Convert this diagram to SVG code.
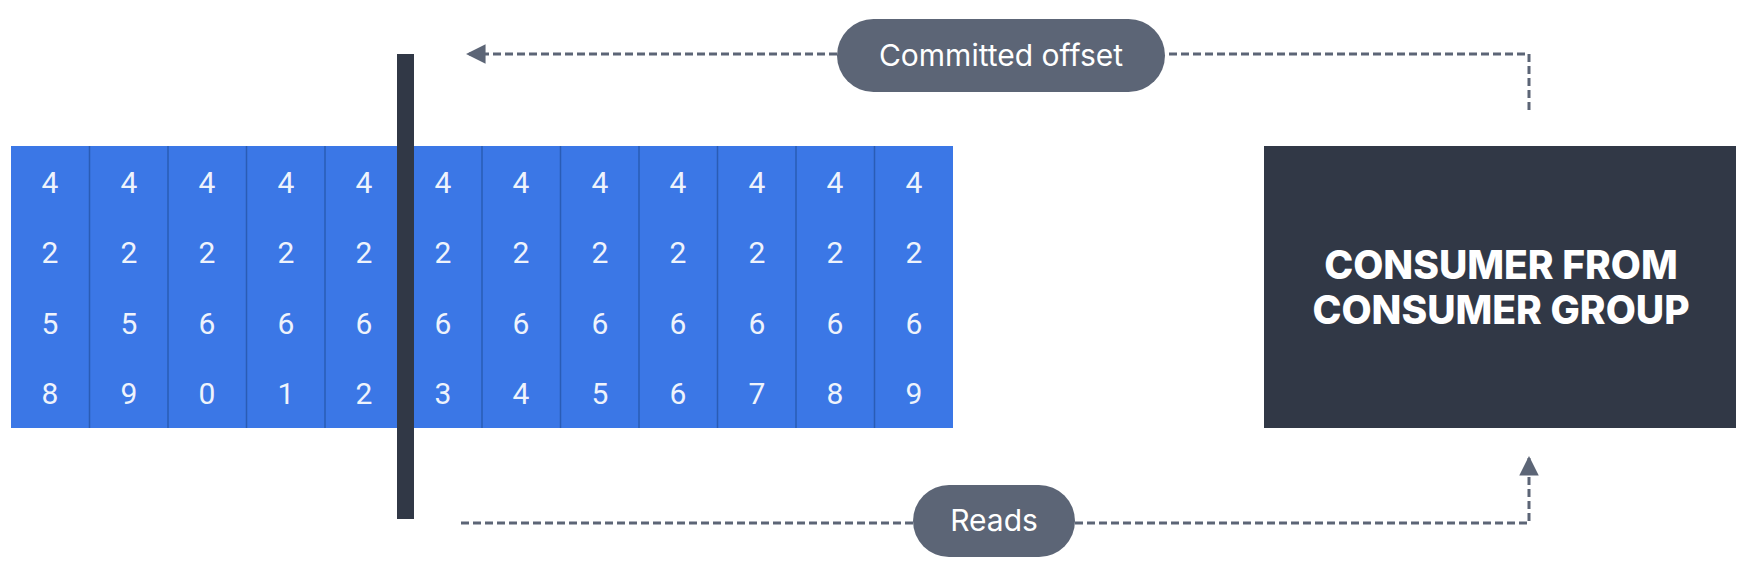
<svg xmlns="http://www.w3.org/2000/svg" width="1762" height="586" viewBox="0 0 1762 586">
  <defs>
    <style>
      .cell { fill: #3b77e6; }
      .div { stroke: #2a5cb5; stroke-width: 1.5; }
      .num { font-family: Roboto, "Liberation Sans", sans-serif; font-size: 30px; fill: #eef3fc; text-anchor: middle; }
      .pill { fill: #5c6576; }
      .pilltxt { font-family: Inter, "Liberation Sans", sans-serif; font-size: 30px; fill: #ffffff; text-anchor: middle; }
      .conn { fill: none; stroke: #5c6576; stroke-width: 3; stroke-dasharray: 8 4; }
      .boxtxt { font-family: Inter, "Liberation Sans", sans-serif; font-size: 39px; font-weight: 800; fill: #ffffff; text-anchor: middle; }
    </style>
    <marker id="arrow" viewBox="0 0 10 10" refX="9" refY="5" markerWidth="6.5" markerHeight="6.5" markerUnits="strokeWidth" orient="auto">
      <path d="M0,0 L10,5 L0,10 Z" fill="#5c6576"/>
    </marker>
  </defs>
  <rect width="1762" height="586" fill="#ffffff"/>

  <g id="log">
    <rect class="cell" x="11" y="146" width="942" height="282"/>
    <g>
      <line class="div" x1="89.5" y1="146" x2="89.5" y2="428"/>
      <line class="div" x1="168" y1="146" x2="168" y2="428"/>
      <line class="div" x1="246.5" y1="146" x2="246.5" y2="428"/>
      <line class="div" x1="325" y1="146" x2="325" y2="428"/>
      <line class="div" x1="482" y1="146" x2="482" y2="428"/>
      <line class="div" x1="560.5" y1="146" x2="560.5" y2="428"/>
      <line class="div" x1="639" y1="146" x2="639" y2="428"/>
      <line class="div" x1="717.5" y1="146" x2="717.5" y2="428"/>
      <line class="div" x1="796" y1="146" x2="796" y2="428"/>
      <line class="div" x1="874.5" y1="146" x2="874.5" y2="428"/>
    </g>
    <g class="num">
      <text x="50" y="193">4</text><text x="129" y="193">4</text><text x="207" y="193">4</text><text x="286" y="193">4</text><text x="364" y="193">4</text><text x="443" y="193">4</text><text x="521" y="193">4</text><text x="600" y="193">4</text><text x="678" y="193">4</text><text x="757" y="193">4</text><text x="835" y="193">4</text><text x="914" y="193">4</text>
      <text x="50" y="263">2</text><text x="129" y="263">2</text><text x="207" y="263">2</text><text x="286" y="263">2</text><text x="364" y="263">2</text><text x="443" y="263">2</text><text x="521" y="263">2</text><text x="600" y="263">2</text><text x="678" y="263">2</text><text x="757" y="263">2</text><text x="835" y="263">2</text><text x="914" y="263">2</text>
      <text x="50" y="334">5</text><text x="129" y="334">5</text><text x="207" y="334">6</text><text x="286" y="334">6</text><text x="364" y="334">6</text><text x="443" y="334">6</text><text x="521" y="334">6</text><text x="600" y="334">6</text><text x="678" y="334">6</text><text x="757" y="334">6</text><text x="835" y="334">6</text><text x="914" y="334">6</text>
      <text x="50" y="404">8</text><text x="129" y="404">9</text><text x="207" y="404">0</text><text x="286" y="404">1</text><text x="364" y="404">2</text><text x="443" y="404">3</text><text x="521" y="404">4</text><text x="600" y="404">5</text><text x="678" y="404">6</text><text x="757" y="404">7</text><text x="835" y="404">8</text><text x="914" y="404">9</text>
    </g>
  </g>

  <g id="offset-marker">
    <rect x="397" y="54" width="17" height="465" fill="#313846"/>
  </g>

  <g id="connectors">
    <path class="conn" d="M837,54 L468,54" marker-end="url(#arrow)"/>
    <path class="conn" d="M1529,110 L1529,54 L1165,54"/>
    <path class="conn" d="M461,523 L913,523"/>
    <path class="conn" d="M1075,523 L1529,523 L1529,458" marker-end="url(#arrow)"/>
  </g>

  <g id="committed-offset">
    <rect class="pill" x="837" y="19" width="328" height="73" rx="36.5"/>
    <text class="pilltxt" x="1001" y="66">Committed offset</text>
  </g>

  <g id="reads">
    <rect class="pill" x="913" y="485" width="162" height="72" rx="36"/>
    <text class="pilltxt" x="994" y="531">Reads</text>
  </g>

  <g id="consumer">
    <rect x="1264" y="146" width="472" height="282" fill="#313846"/>
    <text class="boxtxt" x="1501" y="279">CONSUMER FROM</text>
    <text class="boxtxt" x="1501" y="324">CONSUMER GROUP</text>
  </g>
</svg>
